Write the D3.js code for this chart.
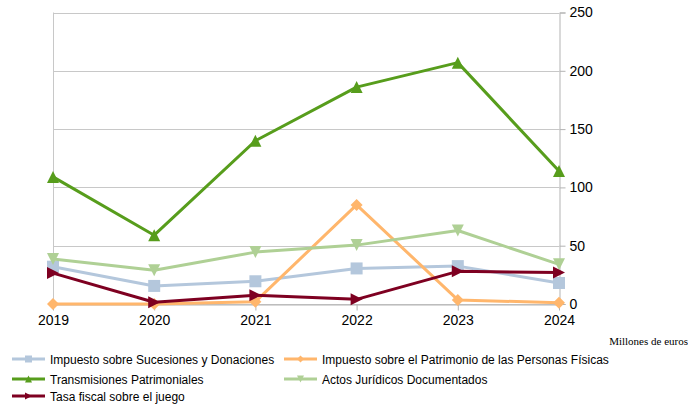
<!DOCTYPE html>
<html>
<head>
<meta charset="utf-8">
<script src="https://d3js.org/d3.v7.min.js"></script>
<style>
    body { margin: 0; background: #fff; }
    text { font-family: "Liberation Sans", Arial, sans-serif; }
</style>
</head>
<body>
<svg width="688" height="405"></svg>
<script>
    // data
    var years = ["2019", "2020", "2021", "2022", "2023", "2024"];
    var sucesiones = [32, 15.5, 19.5, 30.5, 32.5, 18];
    var patrimonio = [0, 0, 2, 85, 3.5, 1];
    var transmisiones = [109, 59, 140, 186, 207, 114];
    var actos = [38.5, 29, 44.5, 50.5, 63, 34];
    var tasaJuego = [26.5, 1.5, 7.5, 4, 28, 27];
    var yTicks = [0, 50, 100, 150, 200, 250];

    var series = [
        {name: "Impuesto sobre Sucesiones y Donaciones", values: sucesiones, color: "#b4c7dc", marker: "square"},
        {name: "Impuesto sobre el Patrimonio de las Personas Físicas", values: patrimonio, color: "#ffb66c", marker: "diamond"},
        {name: "Transmisiones Patrimoniales", values: transmisiones, color: "#579d1c", marker: "up"},
        {name: "Actos Jurídicos Documentados", values: actos, color: "#afd095", marker: "down"},
        {name: "Tasa fiscal sobre el juego", values: tasaJuego, color: "#7e0021", marker: "right"}
    ];

    var svg = d3.select("svg");

    var x = d3.scalePoint().domain(years).range([53, 559]);
    var y = d3.scaleLinear().domain([0, 250]).range([304, 12.5]);

    // gridlines
    svg.append("g").selectAll("line")
        .data(yTicks)
        .enter().append("line")
        .attr("x1", 53).attr("x2", 559)
        .attr("y1", function(d) { return Math.round(y(d)) + 0.5; })
        .attr("y2", function(d) { return Math.round(y(d)) + 0.5; })
        .attr("stroke", "#c8c8c8").attr("stroke-width", 1);

    // left border line
    svg.append("line")
        .attr("x1", 53.5).attr("x2", 53.5).attr("y1", 12.5).attr("y2", 310)
        .attr("stroke", "#c8c8c8");

    // right axis
    var yAxis = svg.append("g")
        .attr("transform", "translate(559.5,0)")
        .call(d3.axisRight(y).tickValues(yTicks).tickSize(6).tickPadding(4));
    yAxis.select(".domain").attr("stroke", "#b3b3b3");
    yAxis.selectAll(".tick line").attr("stroke", "#b3b3b3");
    yAxis.selectAll("text").attr("font-size", 14).attr("fill", "#000")
        .attr("font-family", "Liberation Sans, Arial, sans-serif");

    // bottom axis
    var xAxis = svg.append("g")
        .attr("transform", "translate(0,304.5)")
        .call(d3.axisBottom(x).tickSize(6).tickPadding(5).tickSizeOuter(0));
    xAxis.select(".domain").attr("stroke", "#b3b3b3");
    xAxis.selectAll(".tick line").attr("stroke", "#b3b3b3");
    xAxis.selectAll("text").attr("font-size", 14).attr("fill", "#000")
        .attr("font-family", "Liberation Sans, Arial, sans-serif");

    // marker shapes
    function markerPath(type, s) {
        if (type == "square") return "M" + (-s) + "," + (-s) + "h" + (2*s) + "v" + (2*s) + "h" + (-2*s) + "Z";
        if (type == "diamond") return "M0," + (-s) + "L" + s + ",0L0," + s + "L" + (-s) + ",0Z";
        if (type == "up") return "M0," + (-s) + "L" + s + "," + s + "L" + (-s) + "," + s + "Z";
        if (type == "down") return "M" + (-s) + "," + (-s) + "L" + s + "," + (-s) + "L0," + s + "Z";
        if (type == "right") return "M" + (-s) + "," + (-s) + "L" + s + ",0L" + (-s) + "," + s + "Z";
    }

    var line = d3.line()
        .x(function(d, i) { return x(years[i]); })
        .y(function(d) { return y(d); });

    series.forEach(function(s) {
        var g = svg.append("g");
        g.append("path")
            .attr("d", line(s.values))
            .attr("fill", "none")
            .attr("stroke", s.color)
            .attr("stroke-width", 3)
            .attr("stroke-linejoin", "round");
        g.selectAll("path.m")
            .data(s.values)
            .enter().append("path")
            .attr("class", "m")
            .attr("transform", function(d, i) { return "translate(" + x(years[i]) + "," + y(d) + ")"; })
            .attr("d", markerPath(s.marker, 6))
            .attr("fill", s.color);
    });

    // unit label
    svg.append("text")
        .attr("x", 688).attr("y", 345)
        .attr("text-anchor", "end")
        .attr("font-size", 11)
        .style("font-family", "Liberation Serif, 'Times New Roman', serif")
        .text("Millones de euros");

    // legend
    var legendPos = [[12, 359], [284, 359], [12, 379], [284, 379], [12, 396]];
    series.forEach(function(s, i) {
        var p = legendPos[i];
        var lg = svg.append("g").attr("transform", "translate(" + p[0] + "," + p[1] + ")");
        lg.append("line")
            .attr("x1", 0).attr("x2", 33).attr("y1", 0).attr("y2", 0)
            .attr("stroke", s.color).attr("stroke-width", 3);
        lg.append("path")
            .attr("transform", "translate(16.5,0)")
            .attr("d", markerPath(s.marker, 3.5))
            .attr("fill", s.color);
        lg.append("text")
            .attr("x", 38).attr("y", 4.5)
            .attr("font-size", 12)
            .attr("fill", "#000")
            .text(s.name);
    });
</script>
</body>
</html>
